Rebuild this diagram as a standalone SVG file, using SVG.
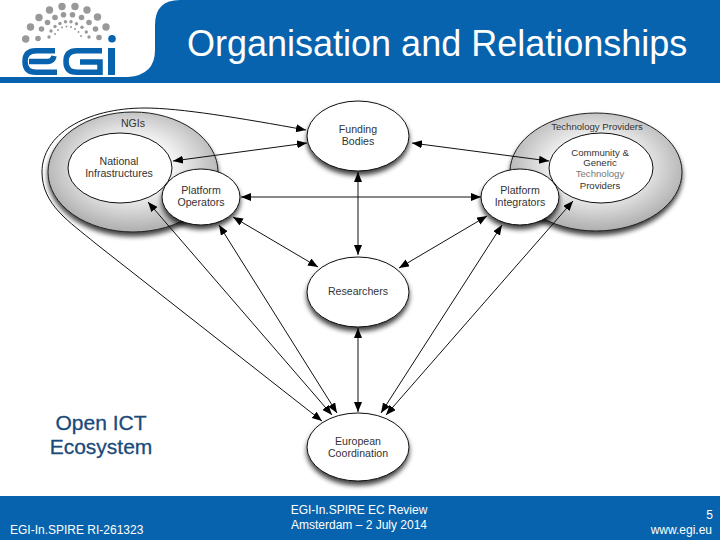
<svg xmlns="http://www.w3.org/2000/svg" width="720" height="540" viewBox="0 0 720 540">
<style>
text{font-family:"Liberation Sans",Arial,sans-serif}
.w{fill:#fff;stroke:#111;stroke-width:1}
.g{fill:url(#grey);stroke:#222;stroke-width:1}
.n{font-size:10.6px;fill:#333;text-anchor:middle}
.sm{font-size:9.6px}
.c{fill:none;stroke:#111;stroke-width:1}
.bi{marker-start:url(#a);marker-end:url(#a)}
.f{fill:#fff;font-size:12px}
.d{fill:#999}
.ls{fill:none;stroke:#0763ad;stroke-width:5.500}
</style>
<defs>
<radialGradient id="grey" cx="0.5" cy="0.45" r="0.55"><stop offset="0.45" stop-color="#f2f2f2"/><stop offset="1" stop-color="#aeaeae"/></radialGradient>
<filter id="s" x="-20%" y="-20%" width="140%" height="150%"><feGaussianBlur in="SourceAlpha" stdDeviation="2.5"/><feOffset dy="4"/><feComponentTransfer><feFuncA type="linear" slope="0.75"/></feComponentTransfer><feMerge><feMergeNode/><feMergeNode in="SourceGraphic"/></feMerge></filter>
<marker id="a" markerUnits="userSpaceOnUse" markerWidth="11" markerHeight="9" refX="10" refY="4" orient="auto-start-reverse"><path d="M0 0L10 4L0 8Z" fill="#000"/></marker>
</defs>
<rect width="720" height="540" fill="#fff"/>
<g id="header">
<path d="M0 77H128Q155 75 155 50V25Q155 0 180 0H720V83H0Z" fill="#0763ad"/>
<text x="187" y="56" font-size="36" fill="#fff">Organisation and Relationships</text>
</g>
<g id="logo">
<g class="d">
<circle cx="25.700" cy="39" r="3.700"/><circle cx="30.500" cy="27" r="3.700"/><circle cx="39" cy="17.500" r="3.700"/><circle cx="49.500" cy="10" r="3.700"/><circle cx="62" cy="6.500" r="3.700"/><circle cx="75" cy="6.500" r="3.700"/><circle cx="87" cy="10" r="3.700"/><circle cx="97.500" cy="17" r="3.700"/><circle cx="106" cy="27" r="3.700"/>
<circle cx="38" cy="38.500" r="2.800"/><circle cx="41.500" cy="29" r="2.800"/><circle cx="47.500" cy="22.500" r="2.800"/><circle cx="55" cy="17.500" r="2.800"/><circle cx="63.500" cy="14.800" r="2.800"/><circle cx="72.500" cy="14.800" r="2.800"/><circle cx="81.500" cy="17.500" r="2.800"/><circle cx="89" cy="22.500" r="2.800"/><circle cx="95.500" cy="29" r="2.800"/><circle cx="99" cy="37.500" r="2.800"/>
<circle cx="49" cy="37" r="1.700"/><circle cx="51" cy="31" r="1.700"/><circle cx="55" cy="26.500" r="1.700"/><circle cx="60" cy="23.500" r="1.700"/><circle cx="65.500" cy="21.700" r="1.700"/><circle cx="71" cy="21.700" r="1.700"/><circle cx="76.500" cy="23.700" r="1.700"/><circle cx="82" cy="27.300" r="1.700"/><circle cx="86.300" cy="32" r="1.700"/><circle cx="89" cy="37" r="1.700"/>
<circle cx="55" cy="34" r="1"/><circle cx="58" cy="30" r="1"/><circle cx="62" cy="27.500" r="1"/><circle cx="66.500" cy="26.500" r="1"/><circle cx="71" cy="27" r="1"/><circle cx="75" cy="29" r="1"/><circle cx="78.500" cy="32" r="1"/><circle cx="81" cy="36" r="1"/>
</g>
<circle cx="112" cy="38.700" r="3.800" fill="#0763ad"/>
<path class="ls" d="M55 50.800H36Q25 50.800 25 61.500Q25 72.300 36 72.300H57M29 61.500H48Q53 61 54 56"/>
<path class="ls" d="M102 50.800H77Q66 50.800 66 61.500Q66 72.300 77 72.300H100V62H80"/>
<rect x="108" y="48" width="7" height="27" fill="#0763ad"/>
</g>
<g id="ngis"><ellipse class="g" cx="133" cy="172" rx="85" ry="60" filter="url(#s)"/><text class="n" x="133" y="127">NGIs</text></g>
<g id="tech"><ellipse class="g" cx="596" cy="172" rx="86" ry="59" filter="url(#s)"/><text class="n sm" x="597" y="130">Technology Providers</text></g>
<g id="national"><ellipse class="w" cx="120" cy="168" rx="52" ry="35"/><text class="n" x="119" y="165">National</text><text class="n" x="119" y="177">Infrastructures</text></g>
<g id="community"><ellipse class="w" cx="601" cy="168" rx="52" ry="35"/><text class="n sm" x="600" y="156">Community &amp;</text><text class="n sm" x="600" y="166">Generic</text><text class="n sm" x="600" y="177" style="fill:#777">Technology</text><text class="n sm" x="600" y="189">Providers</text></g>
<g id="operators"><ellipse class="w" cx="201" cy="197" rx="39" ry="28" filter="url(#s)"/><text class="n" x="201" y="194">Platform</text><text class="n" x="201" y="206">Operators</text></g>
<g id="integrators"><ellipse class="w" cx="520" cy="197" rx="39" ry="28" filter="url(#s)"/><text class="n" x="520" y="194">Platform</text><text class="n" x="520" y="206">Integrators</text></g>
<g id="funding"><ellipse class="w" cx="358" cy="136" rx="51" ry="35" filter="url(#s)"/><text class="n" x="358" y="133">Funding</text><text class="n" x="358" y="145">Bodies</text></g>
<g id="researchers"><ellipse class="w" cx="358" cy="292" rx="51" ry="35" filter="url(#s)"/><text class="n" x="358" y="295">Researchers</text></g>
<g id="european"><ellipse class="w" cx="358" cy="447" rx="51" ry="34" filter="url(#s)"/><text class="n" x="358" y="445">European</text><text class="n" x="358" y="457">Coordination</text></g>
<g id="connectors">
<path class="c bi" d="M306 130C240 118 180 108 145 108C85 108 42 135 42 172C42 205 70 222 95 243L322 421"/>
<line class="c bi" x1="173" y1="161" x2="307" y2="143"/>
<line class="c bi" x1="412" y1="143" x2="549" y2="161"/>
<line class="c bi" x1="358" y1="172" x2="358" y2="255"/>
<line class="c bi" x1="241" y1="197" x2="481" y2="197"/>
<line class="c bi" x1="233" y1="217" x2="318" y2="267"/>
<line class="c bi" x1="487" y1="216" x2="399" y2="268"/>
<line class="c bi" x1="219" y1="225" x2="337" y2="413"/>
<line class="c bi" x1="148" y1="202" x2="332" y2="415"/>
<line class="c bi" x1="358" y1="328" x2="358" y2="412"/>
<line class="c bi" x1="502" y1="225" x2="381" y2="413"/>
<line class="c bi" x1="573" y1="201" x2="386" y2="415"/>
</g>
<g id="caption" font-size="21" fill="#1a4a7a" stroke="#1a4a7a" stroke-width="0.300" text-anchor="middle"><text x="101" y="430">Open ICT</text><text x="101" y="454">Ecosystem</text></g>
<g id="footer">
<rect y="496" width="720" height="44" fill="#0763ad"/>
<text class="f" x="10" y="534">EGI-In.SPIRE RI-261323</text>
<text class="f" x="359" y="514" text-anchor="middle">EGI-In.SPIRE EC Review</text>
<text class="f" x="359" y="529" text-anchor="middle">Amsterdam – 2 July 2014</text>
<text class="f" x="713" y="519" text-anchor="end">5</text>
<text class="f" x="712" y="534" text-anchor="end">www.egi.eu</text>
</g>
</svg>
